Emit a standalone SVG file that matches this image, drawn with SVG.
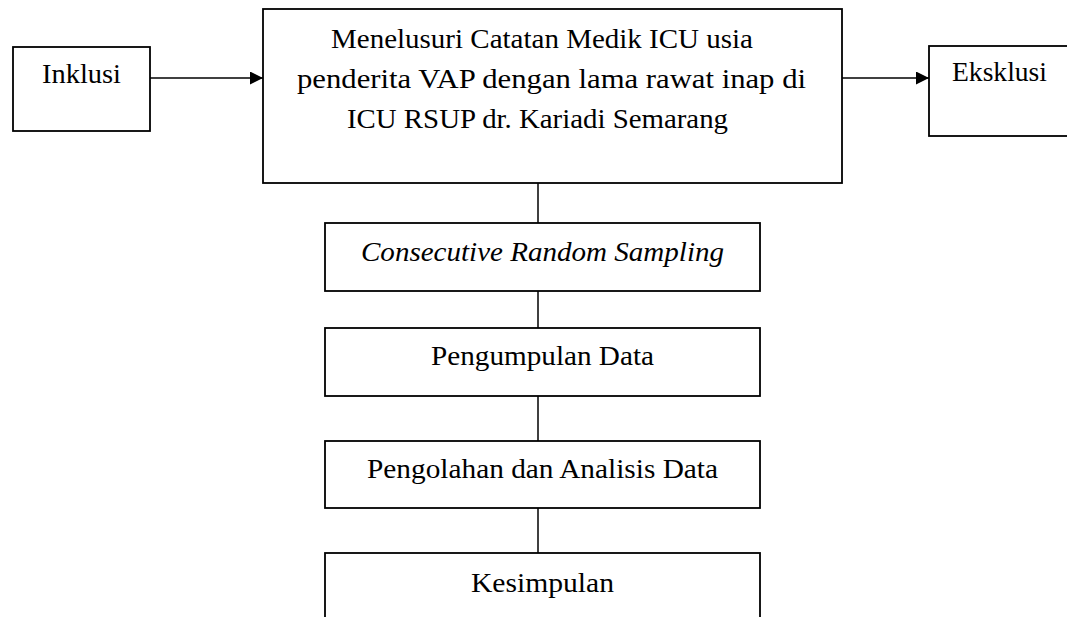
<svg xmlns="http://www.w3.org/2000/svg" width="1067" height="617" viewBox="0 0 1067 617">
<style>
.box{fill:#fff;stroke:#000;stroke-width:1.8}
.ln{fill:none;stroke:#000;stroke-width:1.5}
.t{font-family:"Liberation Serif","Times New Roman",serif;font-size:27px;fill:#000}
.i{font-style:italic}
</style>
<defs>
<marker id="ah" viewBox="0 0 10 10" refX="10" refY="5" markerWidth="14" markerHeight="13" markerUnits="userSpaceOnUse" orient="auto">
<path d="M0,0 L10,5 L0,10 Z" fill="#000"/>
</marker>
</defs>
<g id="connectors">
<line class="ln" x1="150" y1="78" x2="263" y2="78" marker-end="url(#ah)"/>
<line class="ln" x1="842" y1="78" x2="929" y2="78" marker-end="url(#ah)"/>
<line class="ln" x1="538" y1="183" x2="538" y2="223"/>
<line class="ln" x1="538" y1="291" x2="538" y2="328"/>
<line class="ln" x1="538" y1="396" x2="538" y2="441"/>
<line class="ln" x1="538" y1="508" x2="538" y2="553"/>
</g>
<g id="inklusi">
<rect class="box" x="13" y="47" width="137" height="84"/>
<text class="t" x="42" y="83" font-size="29" textLength="79" lengthAdjust="spacingAndGlyphs">Inklusi</text>
</g>
<g id="main">
<rect class="box" x="263" y="9" width="579" height="174"/>
<text class="t" x="331" y="48" textLength="422" lengthAdjust="spacingAndGlyphs">Menelusuri Catatan Medik ICU usia</text>
<text class="t" x="297" y="88" textLength="509" lengthAdjust="spacingAndGlyphs">penderita VAP dengan lama rawat inap di</text>
<text class="t" x="347" y="128" textLength="381" lengthAdjust="spacingAndGlyphs">ICU RSUP dr. Kariadi Semarang</text>
</g>
<g id="eksklusi">
<rect class="box" x="929" y="46" width="150" height="90"/>
<text class="t" x="952" y="81" textLength="95" lengthAdjust="spacingAndGlyphs">Eksklusi</text>
</g>
<g id="sampling">
<rect class="box" x="325" y="223" width="435" height="68"/>
<text class="t i" x="361" y="261" textLength="363" lengthAdjust="spacingAndGlyphs">Consecutive Random Sampling</text>
</g>
<g id="pengumpulan">
<rect class="box" x="325" y="328" width="435" height="68"/>
<text class="t" x="431" y="365" textLength="223" lengthAdjust="spacingAndGlyphs">Pengumpulan Data</text>
</g>
<g id="pengolahan">
<rect class="box" x="325" y="441" width="435" height="67"/>
<text class="t" x="367" y="478" textLength="351" lengthAdjust="spacingAndGlyphs">Pengolahan dan Analisis Data</text>
</g>
<g id="kesimpulan">
<rect class="box" x="325" y="553" width="435" height="80"/>
<text class="t" x="471" y="592" textLength="143" lengthAdjust="spacingAndGlyphs">Kesimpulan</text>
</g>
</svg>
